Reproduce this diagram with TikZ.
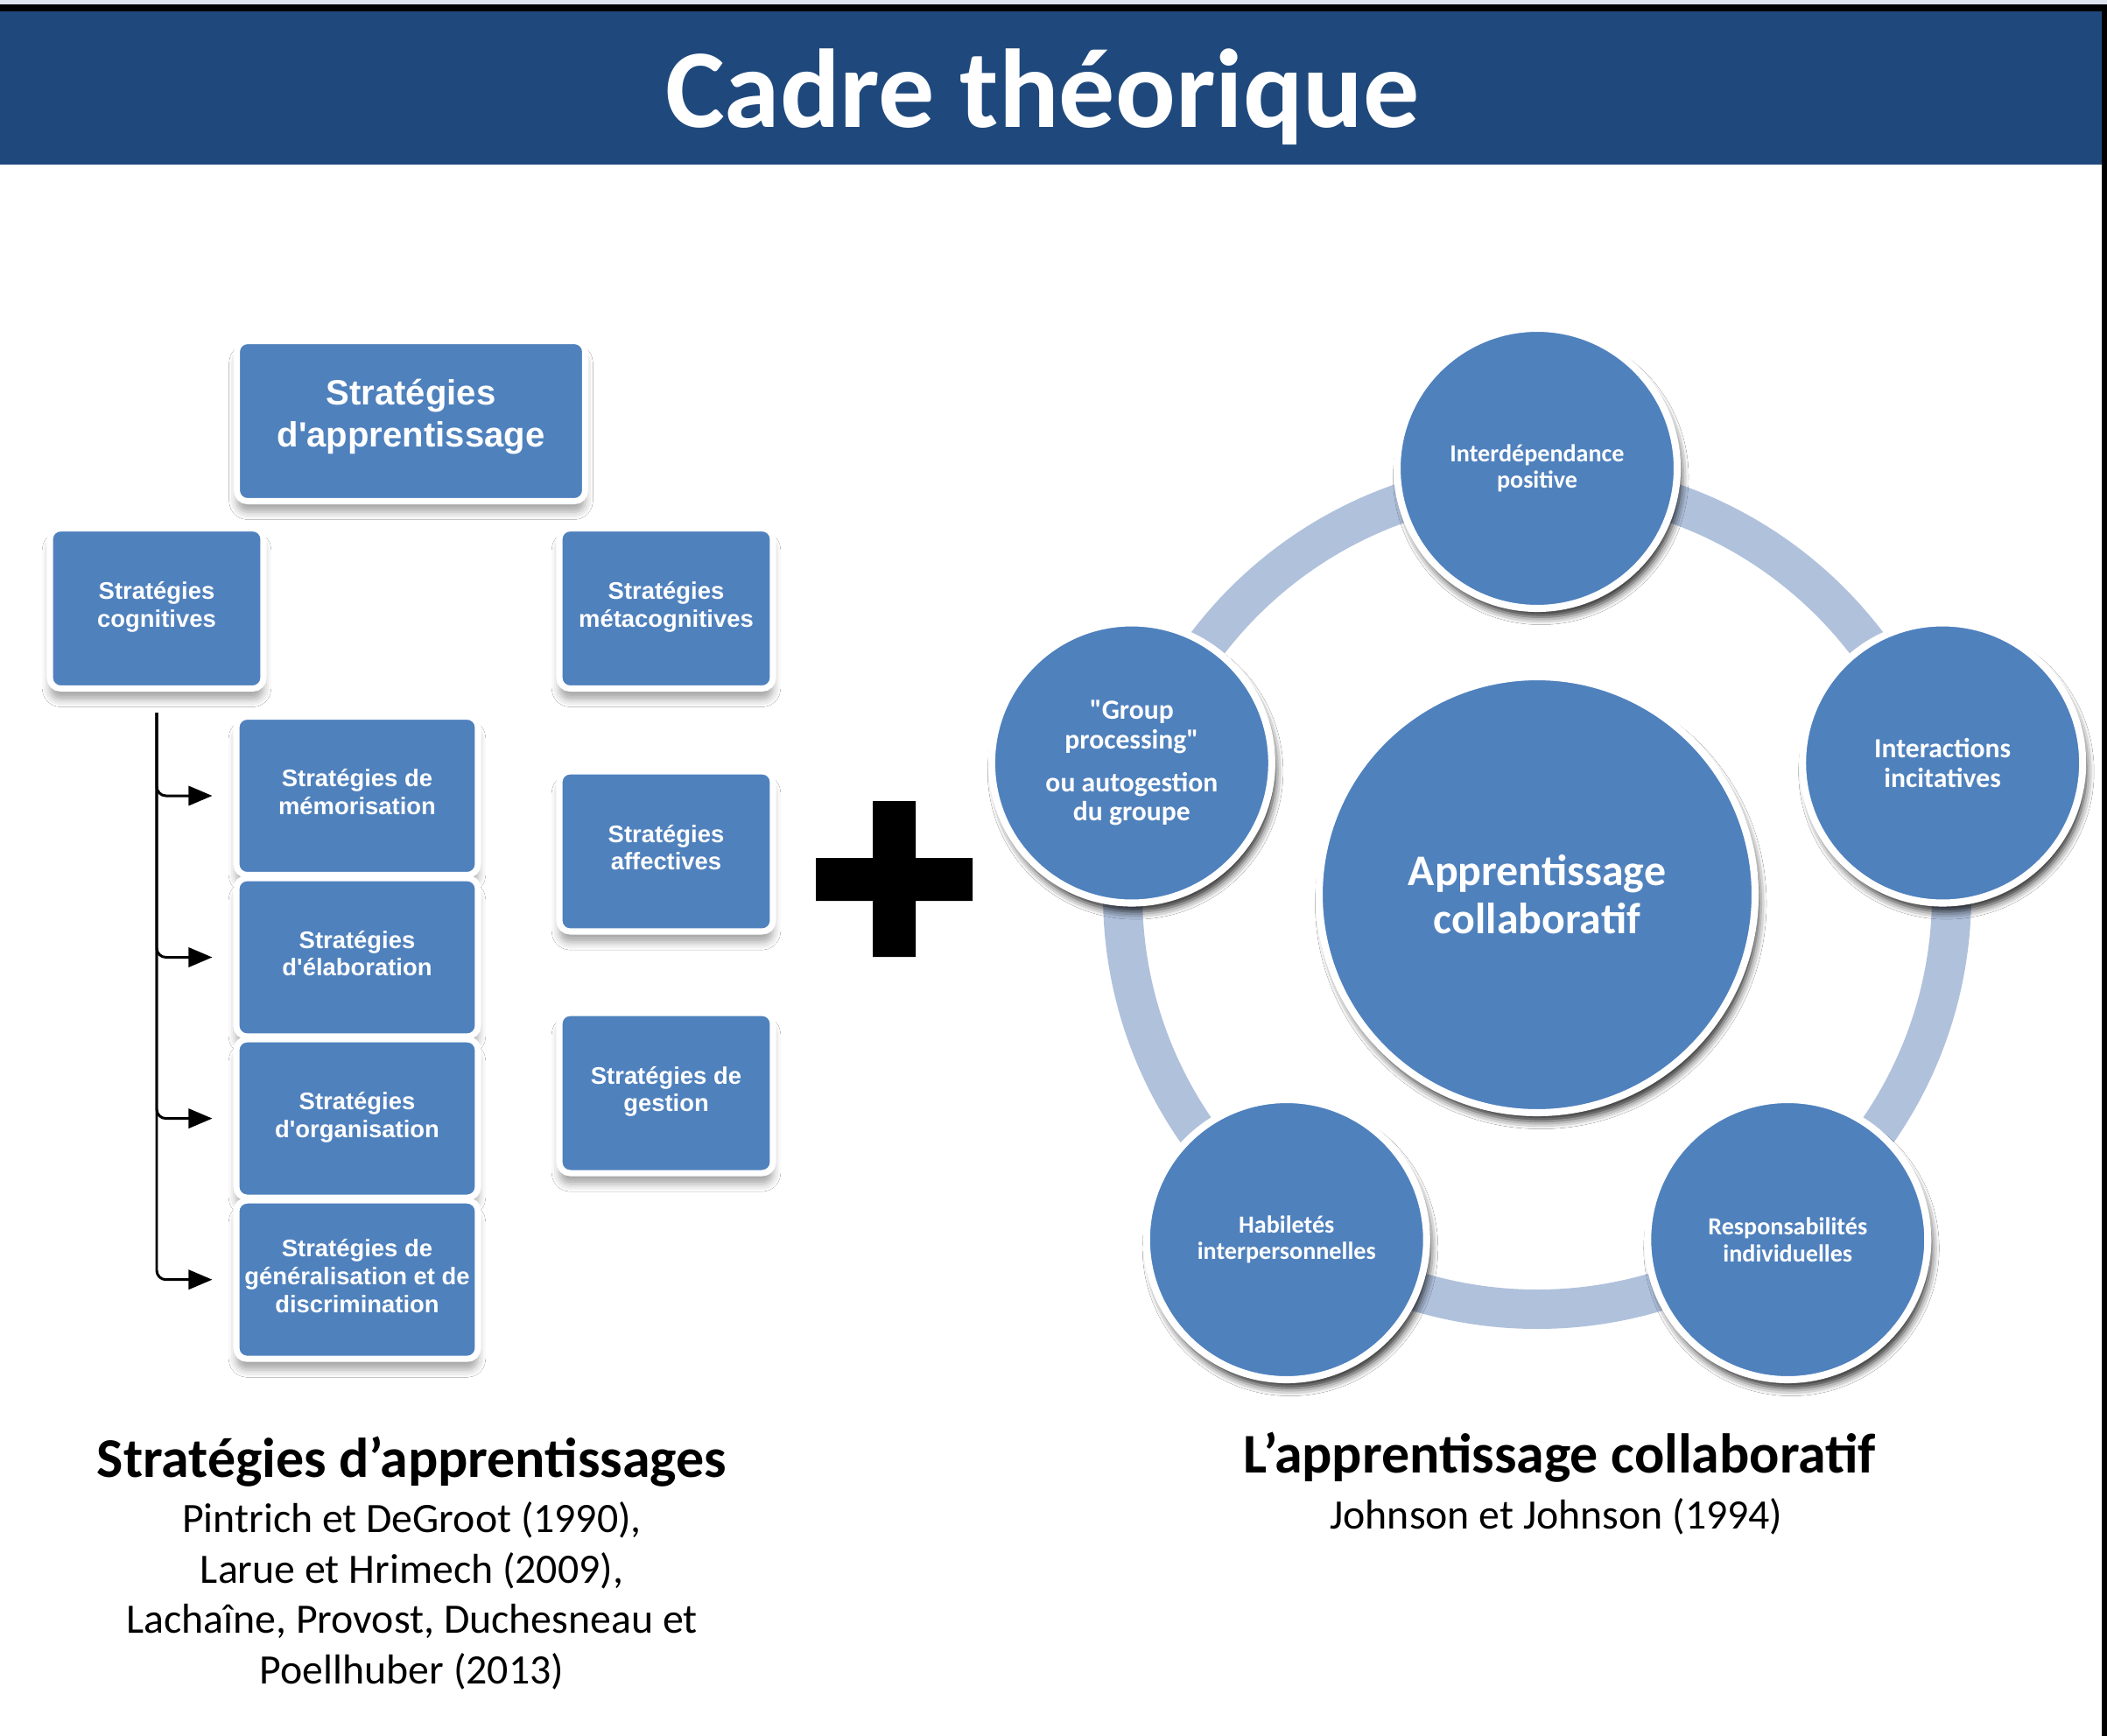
\documentclass[tikz,border=0pt]{standalone}
\usepackage{fontspec}
\setmainfont{Carlito}[Ligatures=TeXOff]
\newfontfamily\arialfont{Liberation Sans}[Ligatures=TeXOff]
\usetikzlibrary{arrows.meta,calc,shadows.blur}

\definecolor{bandeau}{HTML}{1F497D}
\definecolor{bleu}{HTML}{4F81BD}
\definecolor{anneau}{HTML}{B0C1DC}
\definecolor{filet}{HTML}{DDE4F0}

\tikzset{
    boite/.style={rectangle, rounded corners=3.5pt, fill=bleu, draw=white,
        line width=2pt, text=white, align=center, inner sep=0pt, outer sep=0pt,
        font=\arialfont\bfseries\fontsize{7.8}{9.1}\selectfont, text depth=2.6pt,
        minimum width=2.44cm, minimum height=1.83cm,
        blur shadow={shadow xshift=0pt, shadow yshift=-3.5pt,
            shadow blur radius=2.5pt, shadow opacity=35}},
    sousboite/.style={boite, minimum width=2.76cm, minimum height=1.81cm},
    rond/.style={circle, fill=bleu, draw=white, line width=2.3pt, text=white,
        align=center, inner sep=0pt, outer sep=0pt, minimum size=3.2cm,
        font=\bfseries\fontsize{8}{8.7}\selectfont,
        blur shadow={shadow xshift=1.2pt, shadow yshift=-2.8pt,
            shadow blur radius=2.5pt, shadow opacity=85}},
    branche/.style={line width=0.85pt, rounded corners=3pt,
        -{Triangle[length=7.7pt, width=6.3pt]}, shorten >=0.275cm},
    legende/.style={align=center, font=\fontsize{13.6}{16.4}\selectfont}
}

\def\Strategies{
    \node[boite, minimum width=3.98cm, text depth=5.4pt,
        font=\arialfont\bfseries\fontsize{11.4}{13.7}\selectfont]
        (apprent) at (4.695,-4.81) {Stratégies\\d'apprentissage};
    \node[boite] (cogn) at (1.79,-6.95) {Stratégies\\cognitives};
    \node[boite] (meta) at (7.61,-6.95) {Stratégies\\métacognitives};
    \node[boite] (affect) at (7.61,-9.725) {Stratégies\\affectives};
    \node[boite] (gestion) at (7.61,-12.485) {Stratégies de\\gestion};
    \node[sousboite] (memo) at (4.08,-9.09) {Stratégies de\\mémorisation};
    \node[sousboite] (elab) at (4.08,-10.935) {Stratégies\\d'élaboration};
    \node[sousboite] (orga) at (4.08,-12.776) {Stratégies\\d'organisation};
    \node[sousboite] (gene) at (4.08,-14.617) {Stratégies de\\généralisation et de\\discrimination};
}

\def\Cercles{
    \coordinate (moyeu) at (17.56,-10.22);
    \draw[anneau, line width=12.8pt] (moyeu) circle[radius=4.735cm];
    \node[rond, minimum size=4.98cm, font=\bfseries\fontsize{14.2}{15.6}\selectfont]
        (collab) at (moyeu) {Apprentissage\\collaboratif};
    \node[rond] (interdep) at ($(moyeu)+(90:4.87)$) {Interdépendance\\positive};
    \node[rond, font=\bfseries\fontsize{9}{9.5}\selectfont]
        (interact) at ($(moyeu)+(18:4.87)$) {Interactions\\incitatives};
    \node[rond] (respons) at ($(moyeu)+(306:4.87)$) {Responsabilités\\individuelles};
    \node[rond] (habiletes) at ($(moyeu)+(234:4.87)$) {Habiletés\\interpersonnelles};
    \node[rond, font=\bfseries\fontsize{9}{9.5}\selectfont]
        (groupe) at ($(moyeu)+(162:4.87)$) {"Group\\processing"\\[4.5pt]ou autogestion\\du groupe};
}

\begin{document}
\begin{tikzpicture}
    \useasboundingbox (0,0) rectangle (24.07,-19.83);
    \fill[white] (0,0) rectangle (24.07,-19.83);

    % bandeau du titre
    \fill[filet] (0,0) rectangle (24.07,-0.05);
    \fill[black] (0,-0.05) rectangle (24.07,-0.13);
    \fill[bandeau] (0,-0.13) rectangle (24.01,-1.88);
    \fill[black] (24.01,-0.05) rectangle (24.07,-19.83);
    \node[anchor=base, text=white, font=\bfseries\fontsize{36.4}{40}\selectfont]
        (titre) at (11.91,-1.45) {Cadre théorique};

    \Strategies

    \coordinate (tronc) at ([yshift=-0.275cm]cogn.south);
    \foreach \b in {memo,elab,orga,gene} {
    \draw[branche] (tronc) |- (\b.west);
    }

    % signe plus
    \fill[black] (9.97,-9.15) rectangle (10.46,-10.93)
                 (9.32,-9.80) rectangle (11.11,-10.29);

    \Cercles

    \node[anchor=base, font=\bfseries\fontsize{18.2}{20}\selectfont]
        (titrestrat) at (4.705,-16.87) {Stratégies d’apprentissages};
    \node[legende, anchor=north] (refstrat) at (4.705,-17.03)
        {Pintrich et DeGroot (1990),\\Larue et Hrimech (2009),\\Lachaîne, Provost, Duchesneau et\\Poellhuber (2013)};
    \node[anchor=base, font=\bfseries\fontsize{18.2}{20}\selectfont]
        (titrecollab) at (17.82,-16.82) {L’apprentissage collaboratif};
    \node[legende, anchor=north] (refcollab) at (17.78,-16.99)
        {Johnson et Johnson (1994)};
\end{tikzpicture}
\end{document}
